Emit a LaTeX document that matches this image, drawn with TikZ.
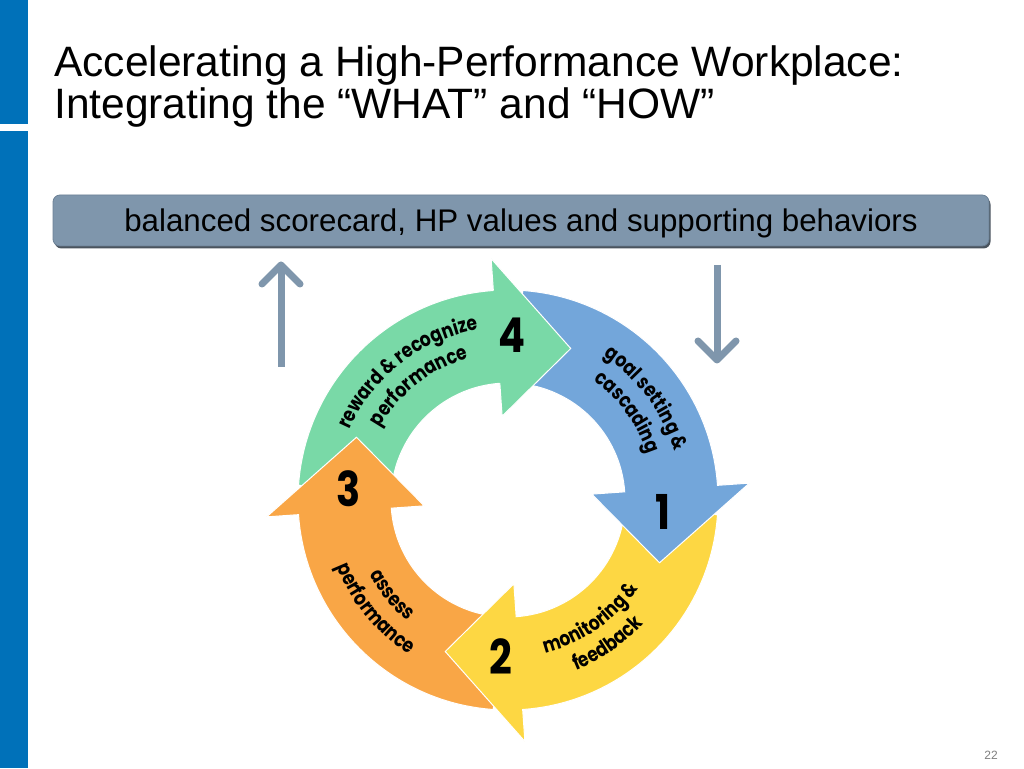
\documentclass[tikz,border=0pt]{standalone}
\usepackage{fontspec}
\setmainfont{Liberation Sans}
\newfontfamily\cycfont{Poppins}[FakeStretch=0.83]
\usetikzlibrary{decorations.text,shadows}
\definecolor{sidebar}{HTML}{0071B9}
\definecolor{bannerfill}{HTML}{7F96AC}
\definecolor{bannerline}{HTML}{6C8196}
\definecolor{bannershadow}{HTML}{4A545E}
\definecolor{arrowgray}{HTML}{7F96AC}
\definecolor{cgreen}{HTML}{79D9A7}
\definecolor{cblue}{HTML}{73A6DA}
\definecolor{cyellow}{HTML}{FDD743}
\definecolor{corange}{HTML}{F9A646}
\newcommand\cycf{\cycfont\bfseries\fontsize{20.5}{20.5}\selectfont}
\newcommand\cyclearrow[2]{%
  \filldraw[cyc, fill=#1] ({#2+82}:210) arc[start angle={#2+82}, end angle={#2}, radius=210]
    -- ({#2}:242) -- ({#2-26.5}:164) -- ({#2}:84) -- ({#2}:117)
    arc[start angle={#2}, end angle={#2+82}, radius=117] -- cycle;}
\tikzset{
  cyc/.style={draw=white, line width=1pt, line join=miter},
  vline/.style={draw=arrowgray, line width=7pt},
  digit/.style={font=\cycfont\bfseries\fontsize{48}{48}\selectfont, inner sep=0pt, text=black},
  banner/.style={fill=bannerfill, draw=bannerline, line width=0.8pt, rounded corners=7pt,
    minimum width=936pt, minimum height=51pt, inner sep=0pt, text depth=0pt,
    drop shadow={shadow xshift=1.5pt, shadow yshift=-2.5pt, fill=bannershadow, opacity=1},
    font=\fontsize{31.3}{36}\selectfont},
  titletext/.style={anchor=base west, inner sep=0pt, font=\fontsize{42.5}{48}\selectfont},
}
\begin{document}
\begin{tikzpicture}[x=1pt,y=1pt]
\useasboundingbox (0,0) rectangle (1024,768);
\fill[white] (0,0) rectangle (1024,768);
% side bar
\fill[sidebar] (0,768) rectangle (28,644);
\fill[sidebar] (0,637) rectangle (28,0);
% title
\node[titletext] (title1) at (54,691) {Accelerating a High-Performance Workplace:};
\node[titletext] (title2) at (54,649) {Integrating the “WHAT” and “HOW”};
% banner
\node[banner] (banner) at (521,547.5) {balanced scorecard, HP values and supporting behaviors};
% vertical arrows
\coordinate (upbot) at (281,401);
\coordinate (uptip) at (281,503);
\draw[vline] (upbot) -- ([yshift=-4]uptip);
\draw[vline, line join=round, line cap=round] ([xshift=-19,yshift=-19]uptip) -- (uptip) -- ([xshift=19,yshift=-19]uptip);
\coordinate (dntop) at (717,503);
\coordinate (dntip) at (717,408);
\draw[vline] (dntop) -- ([yshift=4]dntip);
\draw[vline, line join=round, line cap=round] ([xshift=-19,yshift=19]dntip) -- (dntip) -- ([xshift=19,yshift=19]dntip);
% cycle
\begin{scope}[shift={(508,268)}]
  \cyclearrow{cgreen}{94}
  \cyclearrow{corange}{184}
  \cyclearrow{cyellow}{-86}
  \cyclearrow{cblue}{4}
  \fill[cgreen] (94:242) -- (67.5:164) -- (94:84) -- cycle;
  \draw[cyc] (94:210) -- (94:242) -- (67.5:164) -- (94:84) -- (94:117);
  % green texts (clockwise, tops outward)
  \path[decorate, decoration={text along path, text align=center, text={|\cycf|reward {\&} recognize}}]
    (188:173) arc[start angle=188, end angle=68, radius=173];
  \path[decorate, decoration={text along path, text align=center, text={|\cycf|performance}}]
    (188:147) arc[start angle=188, end angle=68, radius=147];
  % blue texts
  \path[decorate, decoration={text along path, text align=center, text={|\cycf|goal setting {\&}}}]
    (96.3:173) arc[start angle=96.3, end angle=-23.7, radius=173];
  \path[decorate, decoration={text along path, text align=center, text={|\cycf|cascading}}]
    (96.3:147) arc[start angle=96.3, end angle=-23.7, radius=147];
  % yellow texts (counterclockwise, tops inward)
  \path[decorate, decoration={text along path, text align=center, text={|\cycf|monitoring {\&}}}]
    (-115.3:157.5) arc[start angle=-115.3, end angle=4.7, radius=157.5];
  \path[decorate, decoration={text along path, text align=center, text={|\cycf|feedback}}]
    (-115.3:183.5) arc[start angle=-115.3, end angle=4.7, radius=183.5];
  % orange texts
  \path[decorate, decoration={text along path, text align=center, text={|\cycf|assess}}]
    (159.3:157.5) arc[start angle=159.3, end angle=279.3, radius=157.5];
  \path[decorate, decoration={text along path, text align=center, text={|\cycf|performance}}]
    (159.3:183.5) arc[start angle=159.3, end angle=279.3, radius=183.5];
\end{scope}
% digits
\node[digit] (n4) at (512,433) {4};
\node[digit] (n1) at (663,256) {1};
\node[digit] (n2) at (501,111) {2};
\node[digit] (n3) at (349,279) {3};
% page number
\node[inner sep=0pt, text=gray, font=\fontsize{12}{12}\selectfont] (pagenum) at (991,13) {22};
\end{tikzpicture}
\end{document}
